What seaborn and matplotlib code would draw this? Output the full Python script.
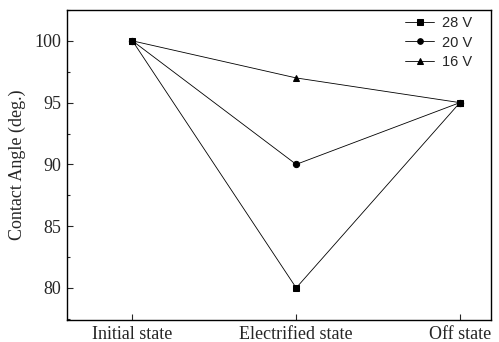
import matplotlib
matplotlib.use("Agg")
import matplotlib.pyplot as plt
import seaborn as sns
import pandas as pd
from matplotlib.ticker import MultipleLocator

states = ["Initial state", "Electrified state", "Off state"]
voltages = ["28 V", "20 V", "16 V"]
angle_28v = [100, 80, 95]
angle_20v = [100, 90, 95]
angle_16v = [100, 97, 95]

rows = []
for v, vals in zip(voltages, [angle_28v, angle_20v, angle_16v]):
    for i, (s, a) in enumerate(zip(states, vals)):
        rows.append({"pos": i, "state": s, "voltage": v, "angle": a})
df = pd.DataFrame(rows)

sns.set_style("ticks")
plt.rcParams["font.family"] = ["Liberation Serif"]

fig = plt.figure(figsize=(4.99, 3.42), dpi=100)
ax = fig.add_axes([67 / 499, 22 / 342, 424 / 499, 310 / 342])

sns.lineplot(data=df, x="pos", y="angle", hue="voltage", style="voltage",
             markers={"28 V": "s", "20 V": "o", "16 V": "^"}, dashes=False,
             palette=["black"] * 3, linewidth=0.6, markersize=4.5,
             markeredgecolor="black", ax=ax)

ax.set_xlim(-0.4, 2.19)
ax.set_ylim(77.4, 102.5)
ax.set_xticks(range(len(states)))
ax.set_xticklabels(states, fontsize=13)
ax.yaxis.set_major_locator(MultipleLocator(5))
ax.yaxis.set_minor_locator(MultipleLocator(2.5))
ax.tick_params(axis="both", direction="in", labelsize=13, width=0.8, length=4, pad=4)
ax.tick_params(axis="y", which="minor", direction="in", length=2.5, width=0.8)
ax.set_xlabel("")
ax.set_ylabel("Contact Angle (deg.)", fontsize=13, labelpad=6)
for sp in ax.spines.values():
    sp.set_visible(True)
    sp.set_linewidth(1.0)
    sp.set_color("black")

leg = ax.legend(loc="upper right", bbox_to_anchor=(0.969, 0.998), frameon=False,
                prop={"family": "Liberation Sans", "size": 10.5},
                handlelength=2.0, handletextpad=0.5, labelspacing=0.35,
                borderaxespad=0.0, markerscale=0.9)

fig.savefig("out.png", dpi=100)
